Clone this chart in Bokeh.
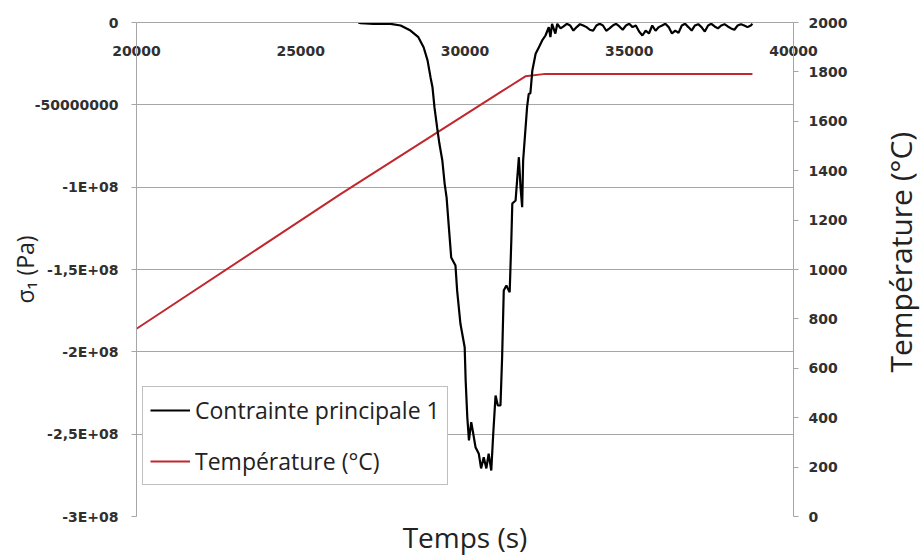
from bokeh.plotting import figure
from bokeh.layouts import row
from bokeh.models import Range1d, LinearAxis, FixedTicker, Legend, LegendItem, Label
from bokeh.embed import file_html
from bokeh.resources import INLINE

# ---- data ----
time_stress = [26750, 26820, 27210, 27730, 28040, 28340, 28580, 28740, 28860, 28950,
               29010, 29070, 29150, 29220, 29310, 29380, 29440, 29500, 29580, 29710,
               29760, 29860, 29990, 30020, 30070, 30120, 30190, 30250, 30320, 30420,
               30490, 30570, 30650, 30720, 30800, 30860, 30930, 31000, 31080, 31130,
               31180, 31260, 31360, 31410, 31440, 31540, 31640, 31690, 31740, 31770,
               31890, 31940, 31990, 32050, 32150, 32250, 32350, 32450, 32550, 32600,
               32650, 32750, 32810, 32910, 33000,
               33100, 33200, 33300, 33400, 33500, 33600, 33700, 33800, 33900, 34000,
               34100, 34200, 34300, 34400, 34500, 34600, 34700, 34800, 34900, 35000,
               35100, 35200, 35300, 35400, 35500, 35600, 35700, 35800, 35900, 36000,
               36100, 36200, 36300, 36400, 36500, 36600, 36700, 36800, 36900, 37000,
               37100, 37200, 37300, 37400, 37500, 37600, 37700, 37800, 37900, 38000,
               38100, 38200, 38300, 38400, 38500, 38600, 38700, 38750]
stress = [0.0, -0.4e6, -0.8e6, -0.8e6, -1.8e6, -4.9e6, -8.9e6, -15.0e6, -23.0e6, -33.2e6,
          -39.3e6, -51.4e6, -63.6e6, -73.5e6, -83.8e6, -97.8e6, -106.3e6, -122.1e6, -142.7e6, -147.6e6,
          -162.7e6, -182.8e6, -197.2e6, -217.4e6, -239.7e6, -253.8e6, -242.7e6, -249.6e6, -257.9e6, -261.9e6,
          -270.8e6, -264.0e6, -270.8e6, -261.9e6, -272.1e6, -249.6e6, -226.5e6, -232.6e6, -232.6e6, -203.3e6,
          -162.8e6, -159.7e6, -163.8e6, -132.4e6, -109.9e6, -108.1e6, -81.8e6, -100.0e6, -112.2e6, -83.8e6,
          -51.4e6, -43.3e6, -43.1e6, -29.1e6, -19.0e6, -15.0e6, -10.9e6, -7.9e6, -2.9e6, -8.9e6,
          -0.8e6, -6.7e6, -0.8e6, -3.6e6, -2.4e6,
          -0.8e6, -1.8e6, -4.9e6, -2.8e6, -1.0e6, -1.8e6, -2.8e6, -4.4e6, -5.0e6, -1.8e6,
          -0.8e6, -1.8e6, -5.0e6, -3.6e6, -1.8e6, -0.8e6, -2.4e6, -4.4e6, -1.8e6, -0.8e6,
          -2.8e6, -1.8e6, -5.5e6, -7.9e6, -4.9e6, -6.7e6, -1.8e6, -5.0e6, -2.8e6, -1.8e6,
          -0.8e6, -2.8e6, -6.7e6, -4.9e6, -6.3e6, -1.8e6, -0.8e6, -2.8e6, -4.9e6, -1.8e6,
          -1.0e6, -2.8e6, -5.5e6, -1.8e6, -0.8e6, -2.4e6, -3.6e6, -1.8e6, -1.0e6, -2.4e6,
          -3.6e6, -4.4e6, -1.8e6, -1.0e6, -1.8e6, -2.8e6, -1.8e6, -0.8e6]

time_temp = [20000, 26210, 31080, 31840, 32450, 38750]
temperature = [760, 1305, 1718, 1782, 1792, 1792]

x_ticks = [20000, 25000, 30000, 35000, 40000]
x_tick_labels = ["20000", "25000", "30000", "35000", "40000"]
y_ticks = [0, -50000000, -100000000, -150000000, -200000000, -250000000, -300000000]
y_tick_labels = ["0", "-50000000", "-1E+08", "-1,5E+08", "-2E+08", "-2,5E+08", "-3E+08"]
t_ticks = [0, 200, 400, 600, 800, 1000, 1200, 1400, 1600, 1800, 2000]
t_tick_labels = ["0", "200", "400", "600", "800", "1000", "1200", "1400", "1600", "1800", "2000"]

series_names = ["Contrainte principale 1", "Température (°C)"]
x_title = "Temps (s)"
y_title = "σ₁ (Pa)"
y2_title = "Température (°C)"

GRID = "#a6a6a6"
TICKFONT = "DejaVu Sans"
TXT = "Open Sans"
TICKCOLOR = "#303030"
TITLECOLOR = "#222222"

p = figure(width=880, height=558,
           x_range=Range1d(20000, 40000), y_range=Range1d(-300000000, 0),
           x_axis_location="above",
           output_backend="svg", toolbar_location=None,
           min_border_left=136, min_border_right=87, min_border_top=22, min_border_bottom=42)
p.extra_y_ranges = {"temp": Range1d(0, 2000)}
p.outline_line_color = None
p.background_fill_color = "white"
p.border_fill_color = "white"

r_temp = p.line(time_temp, temperature, y_range_name="temp", line_color="#c0282d", line_width=2)
r_stress = p.line(time_stress, stress, line_color="black", line_width=2.2)

# x axis at y = 0 (top edge); labels hang below the line, inside the plot
xa = p.xaxis[0]
xa.ticker = FixedTicker(ticks=x_ticks, minor_ticks=[])
xa.major_label_overrides = {t: s for t, s in zip(x_ticks, x_tick_labels)}
xa.axis_line_color = GRID
xa.major_tick_out = 0
xa.major_tick_in = 0
xa.minor_tick_line_color = None
xa.major_label_standoff = -33
xa.major_label_text_font = TICKFONT
xa.major_label_text_font_style = "bold"
xa.major_label_text_font_size = "14px"
xa.major_label_text_color = TICKCOLOR

# x title carried by a tick-less axis below the plot
xt = LinearAxis(ticker=FixedTicker(ticks=[], minor_ticks=[]))
xt.axis_line_color = None
xt.major_tick_out = 0
xt.major_tick_in = 0
xt.minor_tick_line_color = None
xt.major_label_standoff = 0
xt.axis_label = x_title
xt.axis_label_standoff = 1
xt.axis_label_text_font = TXT
xt.axis_label_text_font_style = "normal"
xt.axis_label_text_font_size = "28px"
xt.axis_label_text_color = TITLECOLOR
p.add_layout(xt, "below")

ya = p.yaxis[0]
ya.ticker = FixedTicker(ticks=y_ticks, minor_ticks=[])
ya.major_label_overrides = {t: s for t, s in zip(y_ticks, y_tick_labels)}
ya.axis_line_color = GRID
ya.major_tick_line_color = GRID
ya.major_tick_out = 5
ya.major_tick_in = 0
ya.minor_tick_line_color = None
ya.major_label_standoff = 13
ya.major_label_text_font = TICKFONT
ya.major_label_text_font_style = "bold"
ya.major_label_text_font_size = "14px"
ya.major_label_text_color = TICKCOLOR
ya.axis_label = y_title
ya.axis_label_standoff = -9
ya.axis_label_text_font = TXT
ya.axis_label_text_font_style = "normal"
ya.axis_label_text_font_size = "23px"
ya.axis_label_text_color = TITLECOLOR

ra = LinearAxis(y_range_name="temp", ticker=FixedTicker(ticks=t_ticks, minor_ticks=[]))
ra.major_label_overrides = {t: s for t, s in zip(t_ticks, t_tick_labels)}
ra.axis_line_color = GRID
ra.major_tick_line_color = GRID
ra.major_tick_out = 5
ra.major_tick_in = 0
ra.minor_tick_line_color = None
ra.major_label_standoff = 10
ra.major_label_text_font = TICKFONT
ra.major_label_text_font_style = "bold"
ra.major_label_text_font_size = "14px"
ra.major_label_text_color = TICKCOLOR
p.add_layout(ra, "right")

p.xgrid.visible = False
p.ygrid.ticker = FixedTicker(ticks=y_ticks, minor_ticks=[])
p.ygrid.grid_line_color = GRID
p.ygrid.grid_line_width = 1

legend = Legend(items=[LegendItem(label=series_names[0], renderers=[r_stress]),
                       LegendItem(label=series_names[1], renderers=[r_temp])],
                location=(6, 31), orientation="vertical")
legend.label_text_font = TXT
legend.label_text_font_size = "23px"
legend.label_text_color = TITLECOLOR
legend.glyph_width = 40
legend.glyph_height = 24
legend.label_height = 24
legend.label_standoff = 5
legend.spacing = 19
legend.padding = 7
legend.margin = 0
legend.border_line_color = "#7f7f7f"
legend.border_line_width = 1
legend.background_fill_color = "white"
legend.background_fill_alpha = 1
p.add_layout(legend)

# narrow strip on the right holding the secondary-axis title (reads bottom to top)
side = figure(width=42, height=558, x_range=Range1d(0, 1), y_range=Range1d(0, 1),
              x_axis_location=None, y_axis_location=None,
              output_backend="svg", toolbar_location=None,
              min_border=0, min_border_left=0, min_border_right=0,
              min_border_top=0, min_border_bottom=0)
side.outline_line_color = None
side.xgrid.visible = False
side.ygrid.visible = False
side.background_fill_color = "white"
side.border_fill_color = "white"
side.add_layout(Label(x=0.47, y=0.535, text=y2_title, angle=90, angle_units="deg",
                      text_font=TXT, text_font_size="30px", text_color=TITLECOLOR,
                      text_align="center", text_baseline="middle"))

open("out.html", "w").write(file_html(row(p, side), INLINE))
